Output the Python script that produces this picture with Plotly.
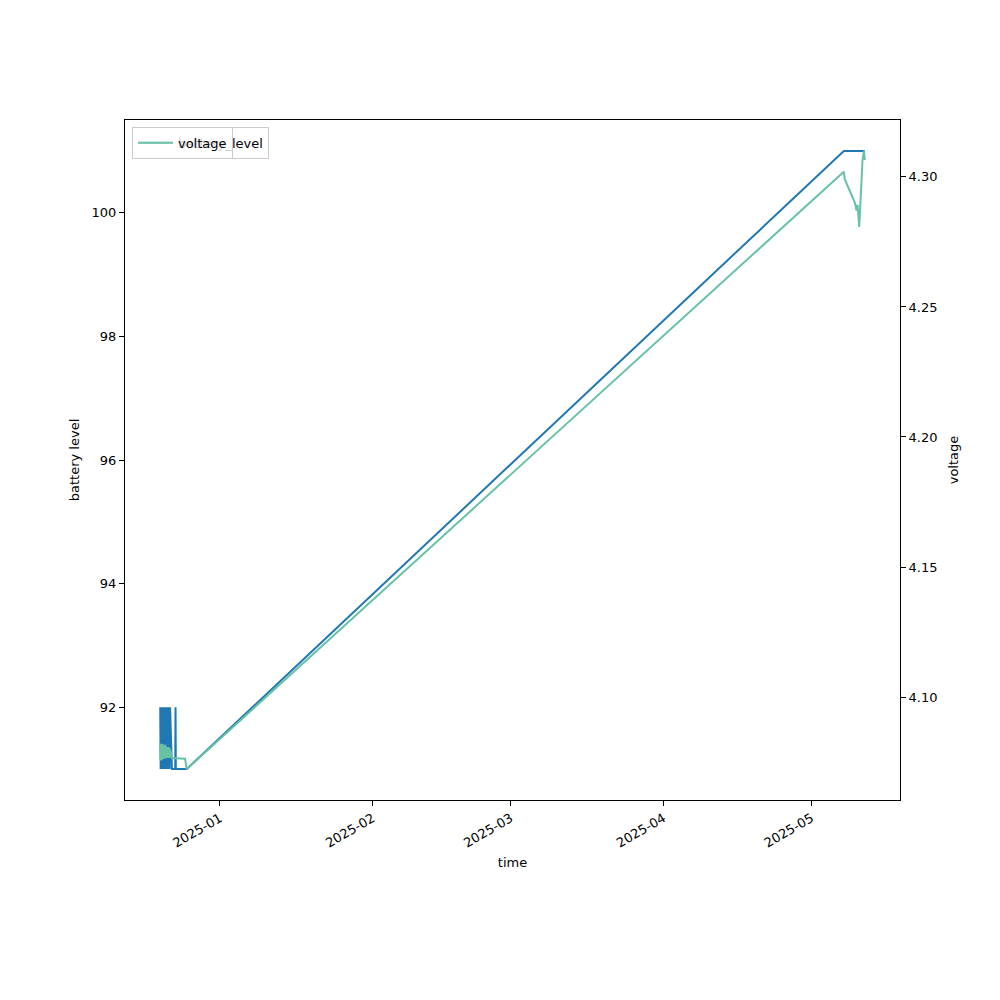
import pandas as pd
import plotly.graph_objects as go

# ---- data ----
time = [
    "2024-12-19 21:00", "2024-12-19 23:00", "2024-12-20 01:00", "2024-12-20 03:00",
    "2024-12-20 05:00", "2024-12-20 07:00", "2024-12-20 09:00", "2024-12-20 11:00",
    "2024-12-20 13:00", "2024-12-20 15:00", "2024-12-20 17:00", "2024-12-20 19:00",
    "2024-12-20 21:00", "2024-12-20 23:00", "2024-12-21 01:00", "2024-12-21 03:00",
    "2024-12-21 05:00", "2024-12-21 07:00", "2024-12-21 09:00", "2024-12-21 11:00",
    "2024-12-21 13:00", "2024-12-21 15:00", "2024-12-21 17:00", "2024-12-21 19:00",
    "2024-12-21 21:00",
    "2024-12-22 06:00", "2024-12-22 22:00", "2024-12-22 23:30", "2024-12-23 01:00",
    "2024-12-24 22:00", "2024-12-25 06:00",
    "2025-05-07 14:00", "2025-05-07 19:00", "2025-05-09 20:00", "2025-05-10 04:00",
    "2025-05-10 09:00", "2025-05-10 17:00", "2025-05-11 09:00", "2025-05-11 16:00",
    "2025-05-11 20:00",
]
battery_level = [
    92, 91, 92, 91, 92, 91, 92, 91, 92, 91, 92, 91, 92, 91, 92, 91,
    92, 91, 92, 91, 92, 91, 92, 91, 92,
    91, 91, 92, 91, 91, 91,
    101, 101, 101, 101, 101, 101, 101, 101, 101,
]
voltage = [
    4.0818, 4.0758, 4.0820, 4.0756, 4.0818, 4.0760, 4.0819, 4.0762,
    4.0815, 4.0764, 4.0812, 4.0766, 4.0816, 4.0764, 4.0810, 4.0766,
    4.0808, 4.0768, 4.0806, 4.0766, 4.0808, 4.0768, 4.0804, 4.0766,
    4.0800,
    4.0765, 4.0765, 4.0765, 4.0765, 4.0763, 4.0723,
    4.3020, 4.2990, 4.2900, 4.2871, 4.2892, 4.2808, 4.3065, 4.3100,
    4.3065,
]
x_ticks = ["2025-01-01", "2025-02-01", "2025-03-01", "2025-04-01", "2025-05-01"]
v_ticks = [4.10, 4.15, 4.20, 4.25, 4.30]
b_ticks = [92, 94, 96, 98, 100]

t = pd.to_datetime(time)


def padded(lo, hi, frac=0.05):
    d = (hi - lo) * frac
    return lo - d, hi + d


tmin, tmax = t.min(), t.max()
span = tmax - tmin
x_range = [tmin - span * 0.05, tmax + span * 0.05]
b_range = padded(min(battery_level), max(battery_level))
v_range = padded(min(voltage), max(voltage))

FONT = "DejaVu Sans"
BLUE = "#1f77b4"
GREEN = "#66c2a5"

fig = go.Figure()
fig.add_trace(go.Scatter(
    x=t, y=battery_level, mode="lines", name="battery_level",
    line=dict(color=BLUE, width=2), yaxis="y", legend="legend", showlegend=True,
))
fig.add_trace(go.Scatter(
    x=t, y=voltage, mode="lines", name="voltage",
    line=dict(color=GREEN, width=2), yaxis="y2", legend="legend2", showlegend=True,
))

axis_common = dict(
    showline=True, linecolor="black", linewidth=1, mirror=True,
    ticks="outside", ticklen=5, tickwidth=1, tickcolor="black",
    showgrid=False, zeroline=False,
    tickfont=dict(family=FONT, size=13, color="black"),
)

legend_style = dict(
    x=0.009, y=0.99, xanchor="left", yanchor="top",
    bgcolor="rgba(255,255,255,0.8)", bordercolor="#cccccc", borderwidth=1,
    itemwidth=35,
    font=dict(family=FONT, size=13, color="black"),
)

fig.update_layout(
    width=1000, height=1000,
    showlegend=True,
    margin=dict(l=117, r=108, t=112, b=208),
    paper_bgcolor="white", plot_bgcolor="white",
    font=dict(family=FONT, size=13, color="black"),
    xaxis=dict(
        **axis_common,
        type="date", range=x_range,
        tickvals=pd.to_datetime(x_ticks), tickformat="%Y-%m", tickangle=-30,
        title=dict(text="time", font=dict(family=FONT, size=13), standoff=8),
    ),
    yaxis=dict(
        **axis_common,
        range=b_range, tickvals=b_ticks,
        title=dict(text="battery level", font=dict(family=FONT, size=13), standoff=9),
    ),
    yaxis2=dict(
        **{k: v for k, v in axis_common.items() if k != "mirror"},
        overlaying="y", side="right",
        range=v_range, tickvals=v_ticks, tickformat=".2f",
        title=dict(text="voltage", font=dict(family=FONT, size=13), standoff=12),
    ),
    legend=dict(**legend_style),
    legend2=dict(**legend_style),
)

fig.write_html("out.html")
